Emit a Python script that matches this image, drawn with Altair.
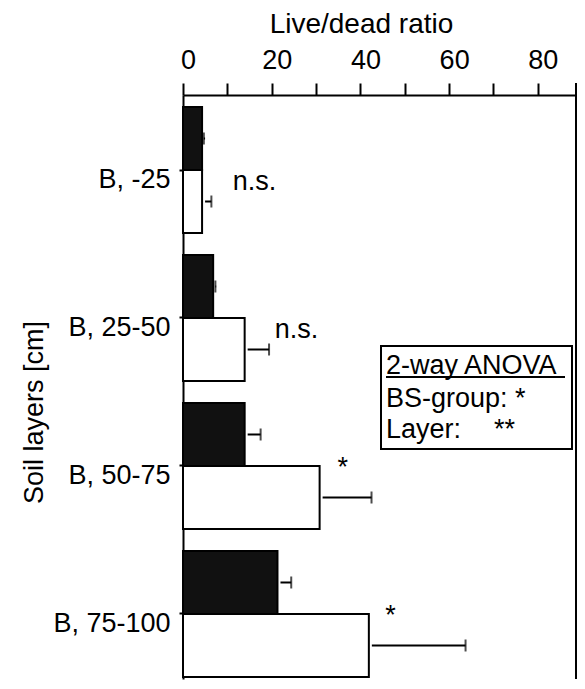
import altair as alt
import pandas as pd

# ---- data ----
layers = ["B, -25", "B, 25-50", "B, 50-75", "B, 75-100"]
filled_vals = [4.3, 6.8, 13.9, 21.3]
filled_sd = [0.4, 0.5, 3.6, 3.1]
open_vals = [4.3, 13.9, 30.8, 41.9]
open_sd = [2.1, 5.5, 11.7, 21.8]
sig_labels = ["n.s.", "n.s.", "*", "*"]
sig_x = [11.2, 20.7, 36.0, 46.8]
series = ["filled", "open"]

rows = []
for i, lay in enumerate(layers):
    rows.append({"layer": lay, "series": "filled", "value": filled_vals[i],
                 "end": filled_vals[i] + filled_sd[i]})
    rows.append({"layer": lay, "series": "open", "value": open_vals[i],
                 "end": open_vals[i] + open_sd[i]})
df = pd.DataFrame(rows)
ann = pd.DataFrame({"layer": layers, "label": sig_labels, "x": sig_x})
sep = pd.DataFrame({"layer": layers[:-1]})
one = pd.DataFrame({"a": [0]})

FONT = "Liberation Sans"
FS = 27
W, H = 393, 584

xscale = alt.Scale(domain=[0, 88.6], nice=False, zero=True)
xaxis = alt.Axis(orient="top", values=list(range(0, 90, 10)),
                 labelExpr="datum.value % 20 == 0 ? datum.label : ''",
                 tickSize=12, tickWidth=2, domainWidth=2, labelPadding=15,
                 labelBaseline="alphabetic", labelFontSize=FS, labelOffset=5,
                 labelFlush=False, labelOverlap=False,
                 title="Live/dead ratio", titleFontSize=28, titleFontWeight="normal",
                 titleX=178, titleY=-63, titleAlign="center", titleBaseline="alphabetic",
                 grid=False, domainColor="black", tickColor="black",
                 labelColor="black", titleColor="black")
yscale = alt.Scale(domain=layers, paddingInner=0.1486, paddingOuter=0.0473, align=0.857)
yaxis = alt.Axis(orient="left", title="Soil layers [cm]", titleFontSize=FS,
                 titleFontWeight="normal", titleAngle=270, titleX=-141, titleY=317,
                 titleAlign="center", titleBaseline="alphabetic",
                 labelFontSize=FS, labelBaseline="alphabetic", labelOffset=18,
                 labelPadding=9, labelAlign="right", tickSize=4, tickWidth=2,
                 domainWidth=2, grid=False, domainColor="black", tickColor="black",
                 labelColor="black", titleColor="black")

def X(field):
    return alt.X(field, type="quantitative", scale=xscale, axis=xaxis)

Y = alt.Y("layer:N", scale=yscale, axis=yaxis, sort=layers)
YO = alt.YOffset("series:N", sort=series,
                 scale=alt.Scale(domain=series, paddingInner=0, paddingOuter=0))

base = alt.Chart(df)

bars = base.mark_bar(stroke="black", strokeWidth=2).encode(
    x=X("value"), y=Y, yOffset=YO,
    color=alt.Color("series:N", scale=alt.Scale(domain=series, range=["#111111", "#ffffff"]),
                    legend=None),
)
err = base.mark_rule(color="black", strokeWidth=2, xOffset=3).encode(
    x=X("value"), x2="end:Q", y=Y, yOffset=YO)
caps = base.mark_tick(color="black", thickness=2, size=12, orient="vertical").encode(
    x=X("end"), y=Y, yOffset=YO)

ns = alt.Chart(ann).transform_filter("datum.label == 'n.s.'").mark_text(
    align="left", baseline="middle", dy=12, fontSize=FS, font=FONT, color="black").encode(
    x=X("x"), y=Y, text="label:N")
stars = alt.Chart(ann).transform_filter("datum.label != 'n.s.'").mark_text(
    align="center", baseline="middle", dy=2, fontSize=FS, font=FONT, color="black").encode(
    x=X("x"), y=Y, text="label:N")

seps = alt.Chart(sep).mark_rule(color="black", strokeWidth=2).encode(
    y=alt.Y("layer:N", scale=yscale, axis=yaxis, sort=layers, bandPosition=1),
    x=alt.value(0), x2=alt.value(7))

right_border = alt.Chart(one).mark_rule(color="black", strokeWidth=2).encode(
    x=alt.value(W), y=alt.value(-12), y2=alt.value(H))

box = alt.Chart(one).mark_rect(fill="white", stroke="black", strokeWidth=2).encode(
    x=alt.value(198), x2=alt.value(389), y=alt.value(251), y2=alt.value(354))
t1 = alt.Chart(one).mark_text(align="left", baseline="alphabetic", fontSize=FS,
                              font=FONT, color="black").encode(
    x=alt.value(203), y=alt.value(279), text=alt.value("2-way ANOVA"))
uline = alt.Chart(one).mark_rule(color="black", strokeWidth=2).encode(
    x=alt.value(203), x2=alt.value(382), y=alt.value(282))
t2 = alt.Chart(one).mark_text(align="left", baseline="alphabetic", fontSize=FS,
                              font=FONT, color="black").encode(
    x=alt.value(203), y=alt.value(312), text=alt.value("BS-group: *"))
t3 = alt.Chart(one).mark_text(align="left", baseline="alphabetic", fontSize=FS,
                              font=FONT, color="black").encode(
    x=alt.value(203), y=alt.value(343), text=alt.value("Layer:"))
t4 = alt.Chart(one).mark_text(align="left", baseline="alphabetic", fontSize=FS,
                              font=FONT, color="black").encode(
    x=alt.value(311), y=alt.value(343), text=alt.value("**"))

chart = alt.layer(bars, err, caps, ns, stars, seps, right_border,
                  box, t1, uline, t2, t3, t4).properties(
    width=W, height=H,
    autosize=alt.AutoSizeParams(type="none"),
    padding={"left": 175, "top": 87, "right": 1, "bottom": 1},
).configure(font=FONT).configure_view(strokeWidth=0)

chart.save("out.html", embed_options={"renderer": "svg", "actions": False})
